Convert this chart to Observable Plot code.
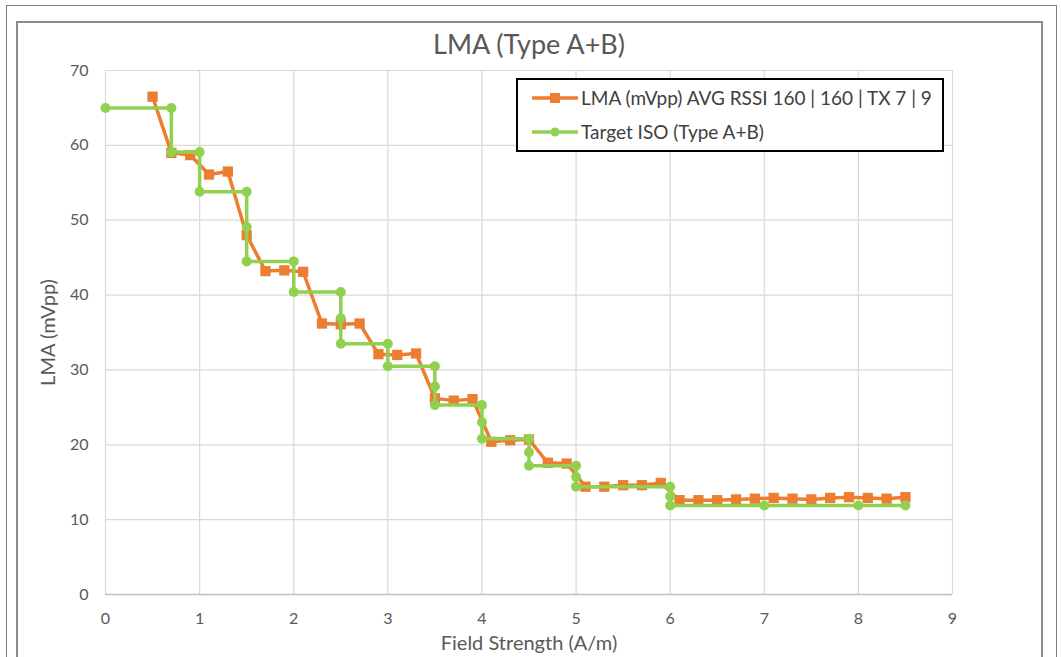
<!DOCTYPE html>
<html>
<head>
<meta charset="utf-8">
<script src="https://cdn.jsdelivr.net/npm/d3@7"></script>
<script src="https://cdn.jsdelivr.net/npm/@observablehq/plot@0.6"></script>
<style>
  html, body { margin: 0; padding: 0; background: #fff; }
  #wrap { position: relative; width: 1061px; height: 657px; overflow: hidden; font-family: Lato, "Open Sans", sans-serif; }
  #outer { position: absolute; left: 6px; top: 5px; width: 1051px; height: 700px; border: 1px solid #7f7f7f; box-sizing: border-box; }
  #inner { position: absolute; left: 16px; top: 21px; width: 1027px; height: 700px; border: 2px solid #8c8c8c; box-sizing: border-box; }
  #chart { position: absolute; left: 0; top: 0; }
  #legend { position: absolute; left: 516px; top: 78px; width: 428px; height: 74px; border: 2px solid #000; box-sizing: border-box; background: #fff; }
</style>
</head>
<body>
<div id="wrap">
  <div id="outer"></div>
  <div id="inner"></div>
  <div id="chart"></div>
  <div id="legend"></div>
</div>
<script>
const titleText = "LMA (Type A+B)";
const xLabel = "Field Strength (A/m)";
const yLabel = "LMA (mVpp)";
const seriesNames = ["LMA (mVpp) AVG RSSI 160 | 160 | TX 7 | 9", "Target ISO (Type A+B)"];
const seriesColors = ["#ED7D31", "#92D050"];
const xTicks = [0, 1, 2, 3, 4, 5, 6, 7, 8, 9];
const yTicks = [0, 10, 20, 30, 40, 50, 60, 70];

const orangeX = [0.5,0.7,0.9,1.1,1.3,1.5,1.7,1.9,2.1,2.3,2.5,2.7,2.9,3.1,3.3,3.5,3.7,3.9,4.1,4.3,4.5,4.7,4.9,5.1,5.3,5.5,5.7,5.9,6.1,6.3,6.5,6.7,6.9,7.1,7.3,7.5,7.7,7.9,8.1,8.3,8.5];
const orangeY = [66.5,59.0,58.7,56.1,56.5,48.0,43.2,43.3,43.1,36.2,36.1,36.2,32.1,32.0,32.2,26.2,25.9,26.1,20.4,20.6,20.7,17.6,17.5,14.4,14.4,14.6,14.6,14.9,12.6,12.6,12.6,12.7,12.8,12.9,12.8,12.7,12.9,13.0,12.9,12.8,13.0];

const greenX = [0,0.7,0.7,1,1,1.5,1.5,1.5,2,2,2.5,2.5,2.5,3,3,3.5,3.5,3.5,4,4,4,4.5,4.5,4.5,5,5,5,6,6,6,7,8,8.5];
const greenY = [65,65,59.1,59.1,53.8,53.8,49.1,44.5,44.5,40.4,40.4,36.9,33.5,33.5,30.5,30.5,27.8,25.3,25.3,23.0,20.8,20.8,19.0,17.2,17.2,15.7,14.4,14.4,13.1,11.9,11.9,11.9,11.9];

const orange = orangeX.map((x, i) => ({x, y: orangeY[i]}));
const green = greenX.map((x, i) => ({x, y: greenY[i]}));

const textColor = "#595959";

const chart = Plot.plot({
  width: 1061,
  height: 657,
  marginLeft: 105,
  marginRight: 109,
  marginTop: 70,
  marginBottom: 63,
  style: { fontFamily: "Lato, 'Open Sans', sans-serif", background: "transparent", color: textColor },
  x: { domain: [0, 9], ticks: xTicks, label: null },
  y: { domain: [0, 70], ticks: yTicks, label: null },
  marks: [
    Plot.gridX(xTicks, { stroke: "#d9d9d9", strokeOpacity: 1, strokeWidth: 1.2 }),
    Plot.gridY(yTicks, { stroke: "#d9d9d9", strokeOpacity: 1, strokeWidth: 1.2 }),
    Plot.ruleY([0], { stroke: "#bfbfbf", strokeWidth: 1.5 }),
    Plot.axisX(xTicks, { tickSize: 0, tickPadding: 18, fontSize: 16, fill: textColor, label: null }),
    Plot.axisY(yTicks, { tickSize: 0, tickPadding: 17, fontSize: 16, fill: textColor, label: null }),
    Plot.line(orange, { x: "x", y: "y", stroke: seriesColors[0], strokeWidth: 3.5 }),
    Plot.dot(orange, { x: "x", y: "y", symbol: "square", r: 5.8, fill: seriesColors[0], stroke: "none" }),
    Plot.line(green, { x: "x", y: "y", stroke: seriesColors[1], strokeWidth: 3.5 }),
    Plot.dot(green, { x: "x", y: "y", r: 5, fill: seriesColors[1], stroke: "none" }),
    Plot.text([titleText], { frameAnchor: "top", lineAnchor: "middle", dy: -25, fontSize: 27, fill: textColor }),
    Plot.text([xLabel], { frameAnchor: "bottom", lineAnchor: "middle", dy: 49, fontSize: 20, fill: textColor }),
    Plot.text([yLabel], { frameAnchor: "left", textAnchor: "middle", lineAnchor: "middle", dx: -57, rotate: -90, fontSize: 20, fill: textColor })
  ]
});
document.getElementById("chart").appendChild(chart);

// legend
const lg = d3.select("#legend").append("svg").attr("width", 424).attr("height", 70);
const rows = [
  { name: seriesNames[0], color: seriesColors[0], sym: "square", y: 18 },
  { name: seriesNames[1], color: seriesColors[1], sym: "circle", y: 52 }
];
rows.forEach(r => {
  lg.append("line").attr("x1", 14).attr("x2", 60).attr("y1", r.y).attr("y2", r.y)
    .attr("stroke", r.color).attr("stroke-width", 3.5);
  if (r.sym === "square") {
    lg.append("rect").attr("x", 37 - 5).attr("y", r.y - 5).attr("width", 10).attr("height", 10).attr("fill", r.color);
  } else {
    lg.append("circle").attr("cx", 37).attr("cy", r.y).attr("r", 4.5).attr("fill", r.color);
  }
  lg.append("text").attr("x", 63).attr("y", r.y).attr("dy", "0.35em")
    .attr("font-family", "Lato, 'Open Sans', sans-serif").attr("font-size", 19)
    .attr("fill", "#404040").text(r.name);
});
</script>
</body>
</html>
